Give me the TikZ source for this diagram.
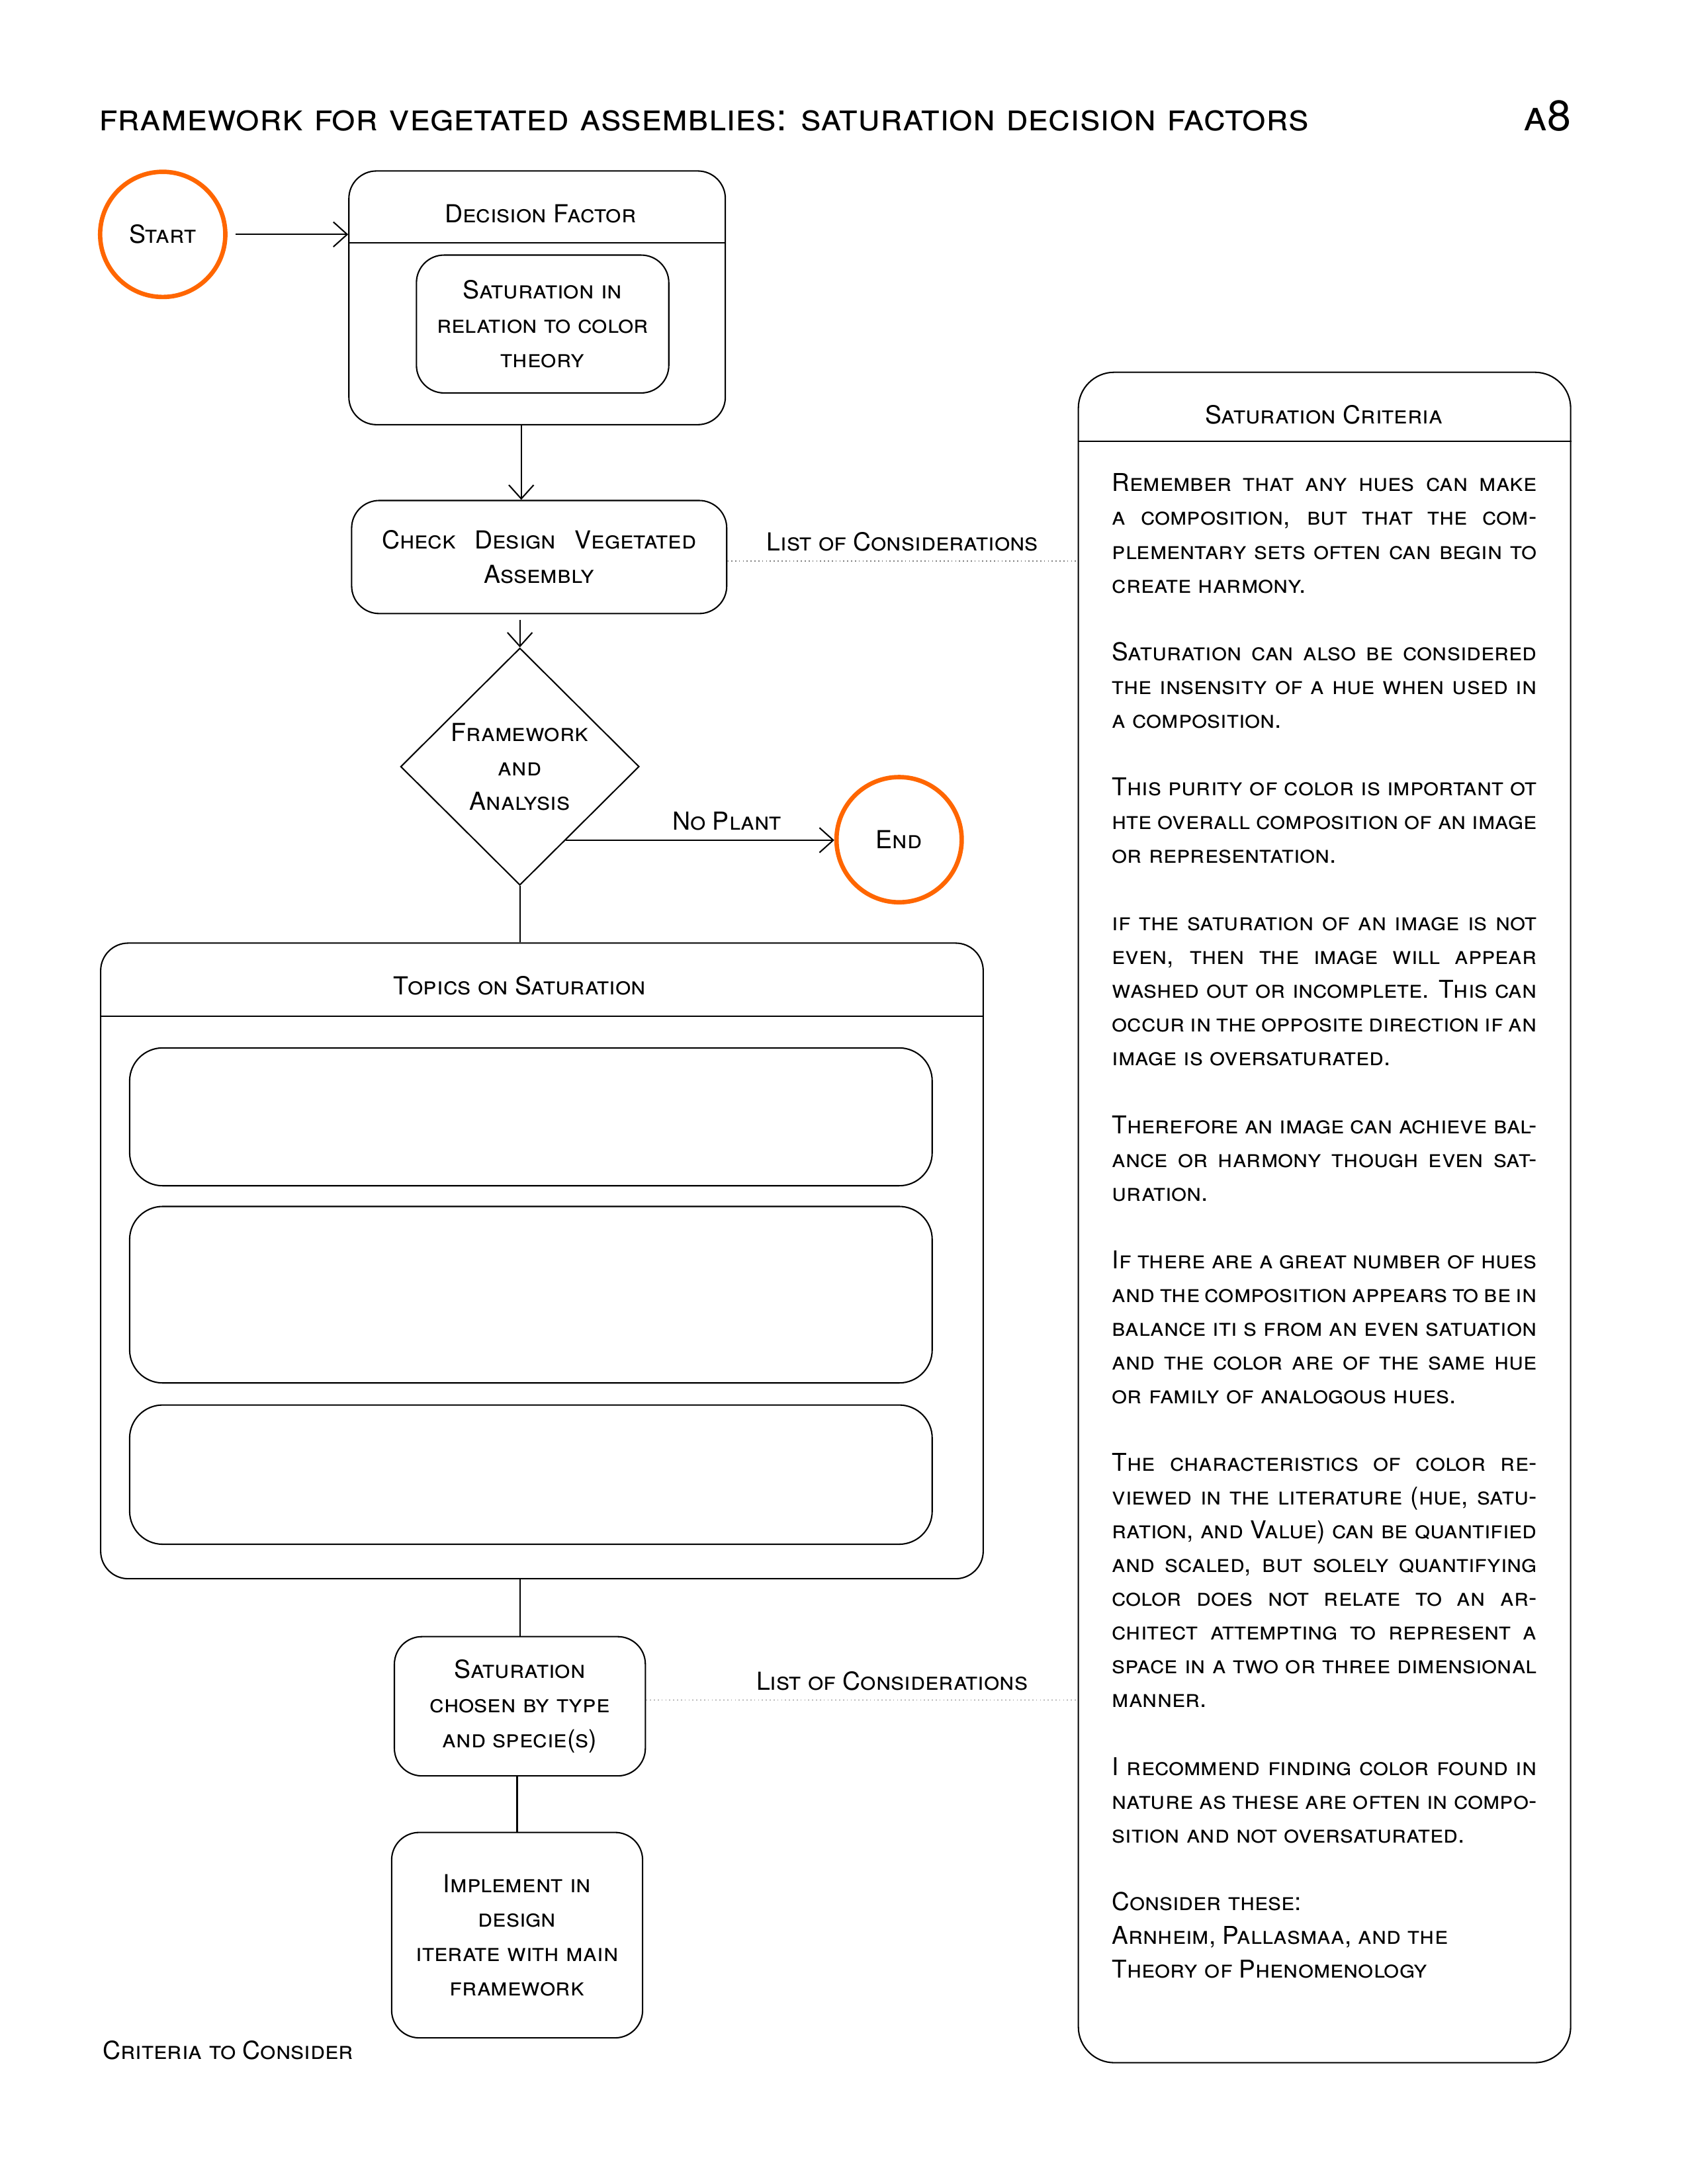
\documentclass[tikz,border=0pt]{standalone}
\usepackage{fontspec}
\setmainfont{TeX Gyre Heros}
\usetikzlibrary{arrows.meta,shapes.geometric,positioning}
\definecolor{floworange}{HTML}{FF6600}
\newcommand{\jl}[1]{\hbox to 154pt{#1}}

\begin{document}
\begin{tikzpicture}[x=1pt,y=-1pt,line width=0.5pt,>={Straight Barb[length=5pt,width=9pt]},font=\fontsize{9}{12.5}\selectfont\scshape]
	\tikzstyle{lane} = [rectangle, draw, rounded corners=10pt, inner sep=0pt, align=center]
	\tikzstyle{terminal} = [circle, draw=floworange, line width=1.6pt, minimum size=45.4pt, inner sep=0pt]
	\tikzstyle{decision} = [diamond, draw, minimum width=86.5pt, minimum height=86pt, inner sep=0pt, align=center]
	\tikzstyle{consider} = [draw=gray, densely dotted, line width=0.4pt]

	\useasboundingbox (0,0) rectangle (612,792);

	% Title
	\node[anchor=base west, inner sep=0pt, font=\fontsize{13.7}{15}\selectfont\scshape] (title) at (35.5,47.5) {framework for vegetated assemblies: saturation decision factors};
	\node[anchor=base east, inner sep=0pt, font=\fontsize{15.5}{18}\selectfont\scshape] (page) at (570,47.5) {a8};

	% Start
	\node[terminal] (start) at (59,85) {Start};

	% Decision factor
	\node[lane, minimum width=136.5pt, minimum height=92pt] (DF) at (194.75,108) {};
	\draw (DF.west |- 0,88) -- (DF.east |- 0,88);
	\node (DFtitle) at (196,77.5) {Decision Factor};
	\node[lane, minimum width=91.5pt, minimum height=50pt] (DFtheory) at (196.75,117.5) {Saturation in\\relation to color\\theory};

	% Check design
	\node[lane, minimum width=136pt, minimum height=41pt] (check) at (195.5,202) {\makebox[114pt][s]{Check Design Vegetated}\\Assembly};

	% Framework decision
	\node[decision] (dec) at (188.5,278) {Framework\\and\\Analysis};

	% End
	\node[terminal] (end) at (326,304.5) {End};

	% Topics
	\node[lane, minimum width=320pt, minimum height=230.5pt] (topics) at (196.5,457.25) {};
	\draw (topics.west |- 0,368.5) -- (topics.east |- 0,368.5);
	\node (topicsTitle) at (188.5,357.5) {Topics on Saturation};
	\foreach \name/\y/\h in {topicA/405/50, topicB/469.5/64, topicC/534.75/50.5}
	\node[lane, rounded corners=12pt, minimum width=291pt, minimum height=\h pt] (\name) at (192.5,\y) {};

	% Saturation by type
	\node[lane, minimum width=91pt, minimum height=50.5pt] (satType) at (188.5,618.75) {Saturation\\chosen by type\\and specie(s)};
	\node[lane, minimum width=91pt, minimum height=74.5pt] (implement) at (187.5,701.75) {Implement in\\design\\iterate with main\\framework};
	\node[anchor=west, inner sep=0pt] (criteria) at (37,743.5) {Criteria to Consider};

	% Saturation criteria
	\node[lane, rounded corners=13pt, minimum width=178.5pt, minimum height=613pt] (crit) at (480.25,441.5) {};
	\draw (crit.west |- 0,160) -- (crit.east |- 0,160);
	\node (critTitle) at (480,150.5) {Saturation Criteria};
	\node[anchor=north west, inner sep=0pt, align=left, font=\fontsize{8.9}{12.25}\selectfont\scshape] (critText) at (403,171.5) {%
		\jl{Remember that any hues can make}\\
		\jl{a composition, but that the com-}\\
		\jl{plementary sets often can begin to}\\
		create harmony.\\[12.25pt]
		\jl{Saturation can also be considered}\\
		\jl{the insensity of a hue when used in}\\
		a composition.\\[12.25pt]
		\jl{This purity of color is important ot}\\
		\jl{hte overall composition of an image}\\
		or representation.\\[12.25pt]
		\jl{if the saturation of an image is not}\\
		\jl{even, then the image will appear}\\
		\jl{washed out or incomplete. This can}\\
		\jl{occur in the opposite direction if an}\\
		image is oversaturated.\\[12.25pt]
		\jl{Therefore an image can achieve bal-}\\
		\jl{ance or harmony though even sat-}\\
		uration.\\[12.25pt]
		\jl{If there are a great number of hues}\\
		\jl{and the composition appears to be in}\\
		\jl{balance iti s from an even satuation}\\
		\jl{and the color are of the same hue}\\
		or family of analogous hues.\\[12.25pt]
		\jl{The characteristics of color re-}\\
		\jl{viewed in the literature (hue, satu-}\\
		\jl{ration, and Value) can be quantified}\\
		\jl{and scaled, but solely quantifying}\\
		\jl{color does not relate to an ar-}\\
		\jl{chitect attempting to represent a}\\
		\jl{space in a two or three dimensional}\\
		manner.\\[12.25pt]
		\jl{I recommend finding color found in}\\
		\jl{nature as these are often in compo-}\\
		sition and not oversaturated.\\[12.25pt]
		Consider these:\\
		Arnheim, Pallasmaa, and the\\
		Theory of Phenomenology};

	% Connectors
	\draw[->, shorten <=3pt] (start) -- (DF.west |- start);
	\draw[->] (DF.south -| 189,0) -- (check.north -| 189,0);
	\draw[->, shorten <=2pt] (check.south -| dec.north) -- (dec.north);
	\draw[->] (dec.-58) -- (dec.-58 -| end.west) node[pos=0.6, above] {No Plant};
	\draw (dec.south) -- (dec.south |- topics.north);
	\draw (satType.north |- topics.south) -- (satType.north);
	\draw (implement.north |- satType.south) -- (implement.north);
	\draw[consider] (check.east |- 0,203.5) -- (crit.west |- 0,203.5) node[midway, above] {List of Considerations};
	\draw[consider] (satType.east |- 0,616.5) -- (crit.west |- 0,616.5) node[pos=0.57, above] {List of Considerations};
\end{tikzpicture}
\end{document}
